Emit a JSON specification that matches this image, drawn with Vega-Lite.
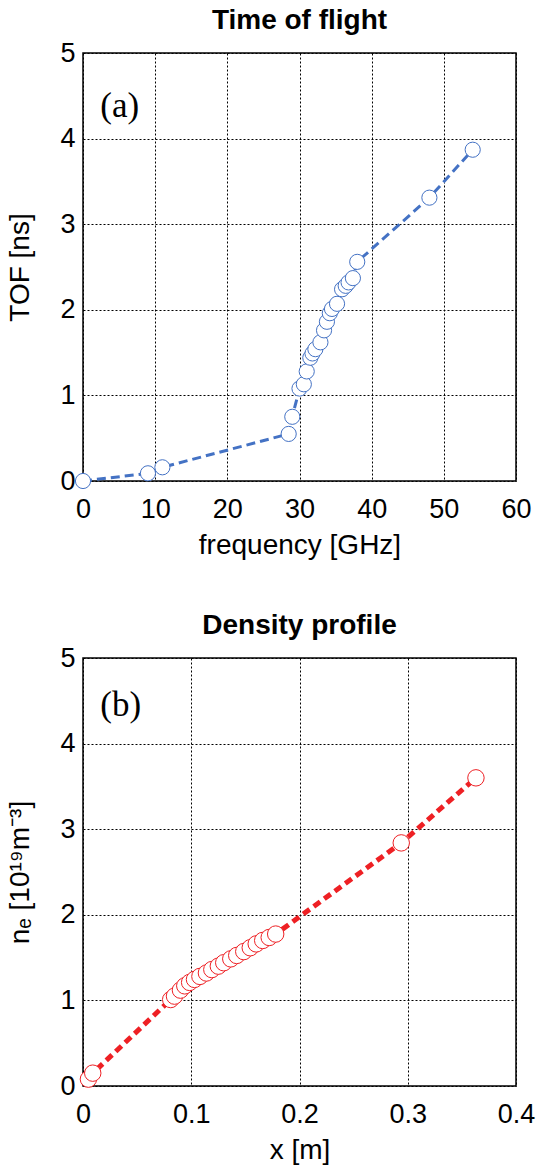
{
  "$schema": "https://vega.github.io/schema/vega-lite/v6.json",
  "padding": {"left": 6, "top": 6, "right": 6, "bottom": 0},
  "background": "white",
  "datasets": {
    "tof": [
      {"f": 0, "tof": 0}, {"f": 9.0, "tof": 0.09}, {"f": 11.0, "tof": 0.16},
      {"f": 28.5, "tof": 0.55}, {"f": 29.0, "tof": 0.75}, {"f": 30.0, "tof": 1.08},
      {"f": 30.6, "tof": 1.13}, {"f": 31.0, "tof": 1.28}, {"f": 31.5, "tof": 1.44},
      {"f": 31.8, "tof": 1.49}, {"f": 32.2, "tof": 1.54}, {"f": 32.9, "tof": 1.62},
      {"f": 33.4, "tof": 1.76}, {"f": 33.8, "tof": 1.86}, {"f": 34.2, "tof": 1.96},
      {"f": 34.5, "tof": 2.01}, {"f": 35.2, "tof": 2.07}, {"f": 35.9, "tof": 2.24},
      {"f": 36.4, "tof": 2.28}, {"f": 36.8, "tof": 2.32}, {"f": 37.4, "tof": 2.37},
      {"f": 38.0, "tof": 2.56}, {"f": 48.0, "tof": 3.31}, {"f": 54.0, "tof": 3.87}
    ],
    "ne": [
      {"x": 0.005, "ne": 0.08}, {"x": 0.009, "ne": 0.15}, {"x": 0.081, "ne": 1.01},
      {"x": 0.0845, "ne": 1.05}, {"x": 0.090, "ne": 1.12}, {"x": 0.094, "ne": 1.17},
      {"x": 0.0985, "ne": 1.21}, {"x": 0.103, "ne": 1.245}, {"x": 0.108, "ne": 1.28},
      {"x": 0.114, "ne": 1.32}, {"x": 0.119, "ne": 1.36}, {"x": 0.125, "ne": 1.40},
      {"x": 0.130, "ne": 1.44}, {"x": 0.1365, "ne": 1.485}, {"x": 0.142, "ne": 1.525},
      {"x": 0.1485, "ne": 1.57}, {"x": 0.1545, "ne": 1.615}, {"x": 0.160, "ne": 1.66},
      {"x": 0.166, "ne": 1.70}, {"x": 0.172, "ne": 1.735}, {"x": 0.178, "ne": 1.775},
      {"x": 0.294, "ne": 2.84}, {"x": 0.363, "ne": 3.6}
    ],
    "labels": [
      {"panel": "a", "lab": "(a)", "lx": 2.4, "ly": 4.38},
      {"panel": "b", "lab": "(b)", "lx": 0.016, "ly": 4.45}
    ]
  },
  "spacing": 51,
  "vconcat": [
    {
      "width": 433,
      "height": 428,
      "title": "Time of flight",
      "layer": [
        {
          "data": {"name": "tof"},
          "mark": {"type": "line", "color": "#4472C4", "strokeWidth": 3, "strokeDash": [9, 5]},
          "encoding": {
            "x": {"field": "f", "type": "quantitative", "title": "frequency [GHz]",
                  "scale": {"domain": [0, 60], "nice": false},
                  "axis": {"values": [0, 10, 20, 30, 40, 50, 60], "format": "~g"}},
            "y": {"field": "tof", "type": "quantitative", "title": "TOF [ns]",
                  "scale": {"domain": [0, 5], "nice": false},
                  "axis": {"values": [0, 1, 2, 3, 4, 5], "format": "~g"}}
          }
        },
        {
          "data": {"name": "tof"},
          "mark": {"type": "circle", "size": 230, "fill": "white", "stroke": "#4472C4", "strokeWidth": 1, "opacity": 1, "fillOpacity": 1},
          "encoding": {
            "x": {"field": "f", "type": "quantitative"},
            "y": {"field": "tof", "type": "quantitative"}
          }
        },
        {
          "data": {"name": "labels"},
          "transform": [{"filter": "datum.panel === 'a'"}],
          "mark": {"type": "text", "font": "Liberation Serif", "fontSize": 35, "align": "left", "baseline": "middle", "color": "black"},
          "encoding": {
            "x": {"field": "lx", "type": "quantitative"},
            "y": {"field": "ly", "type": "quantitative"},
            "text": {"field": "lab"}
          }
        }
      ]
    },
    {
      "width": 433,
      "height": 428,
      "title": "Density profile",
      "layer": [
        {
          "data": {"name": "ne"},
          "mark": {"type": "line", "color": "#EE2024", "strokeWidth": 5, "strokeDash": [8, 5]},
          "encoding": {
            "x": {"field": "x", "type": "quantitative", "title": "x [m]",
                  "scale": {"domain": [0, 0.4], "nice": false},
                  "axis": {"values": [0, 0.1, 0.2, 0.3, 0.4], "format": "~g"}},
            "y": {"field": "ne", "type": "quantitative", "title": "nₑ [10¹⁹m⁻³]",
                  "scale": {"domain": [0, 5], "nice": false},
                  "axis": {"values": [0, 1, 2, 3, 4, 5], "format": "~g"}}
          }
        },
        {
          "data": {"name": "ne"},
          "mark": {"type": "circle", "size": 270, "fill": "white", "stroke": "#EE2024", "strokeWidth": 1, "opacity": 1, "fillOpacity": 1},
          "encoding": {
            "x": {"field": "x", "type": "quantitative"},
            "y": {"field": "ne", "type": "quantitative"}
          }
        },
        {
          "data": {"name": "labels"},
          "transform": [{"filter": "datum.panel === 'b'"}],
          "mark": {"type": "text", "font": "Liberation Serif", "fontSize": 35, "align": "left", "baseline": "middle", "color": "black"},
          "encoding": {
            "x": {"field": "lx", "type": "quantitative"},
            "y": {"field": "ly", "type": "quantitative"},
            "text": {"field": "lab"}
          }
        }
      ]
    }
  ],
  "config": {
    "view": {"stroke": "black", "strokeWidth": 1.5},
    "title": {"font": "Liberation Sans", "fontSize": 28, "fontWeight": "bold", "color": "black", "offset": 0},
    "axis": {
      "labelFont": "Liberation Sans", "labelFontSize": 27, "labelColor": "black",
      "titleFont": "Liberation Sans", "titleFontSize": 28, "titleFontWeight": "normal", "titleColor": "black",
      "grid": true, "gridColor": "black", "gridDash": [2, 2], "gridWidth": 1, "gridOpacity": 1,
      "domain": false, "ticks": false, "labelPadding": 8, "labelFlush": false, "labelOverlap": false
    },
    "axisX": {"labelPadding": 15, "titlePadding": 9},
    "axisY": {"titlePadding": 25}
  }
}
